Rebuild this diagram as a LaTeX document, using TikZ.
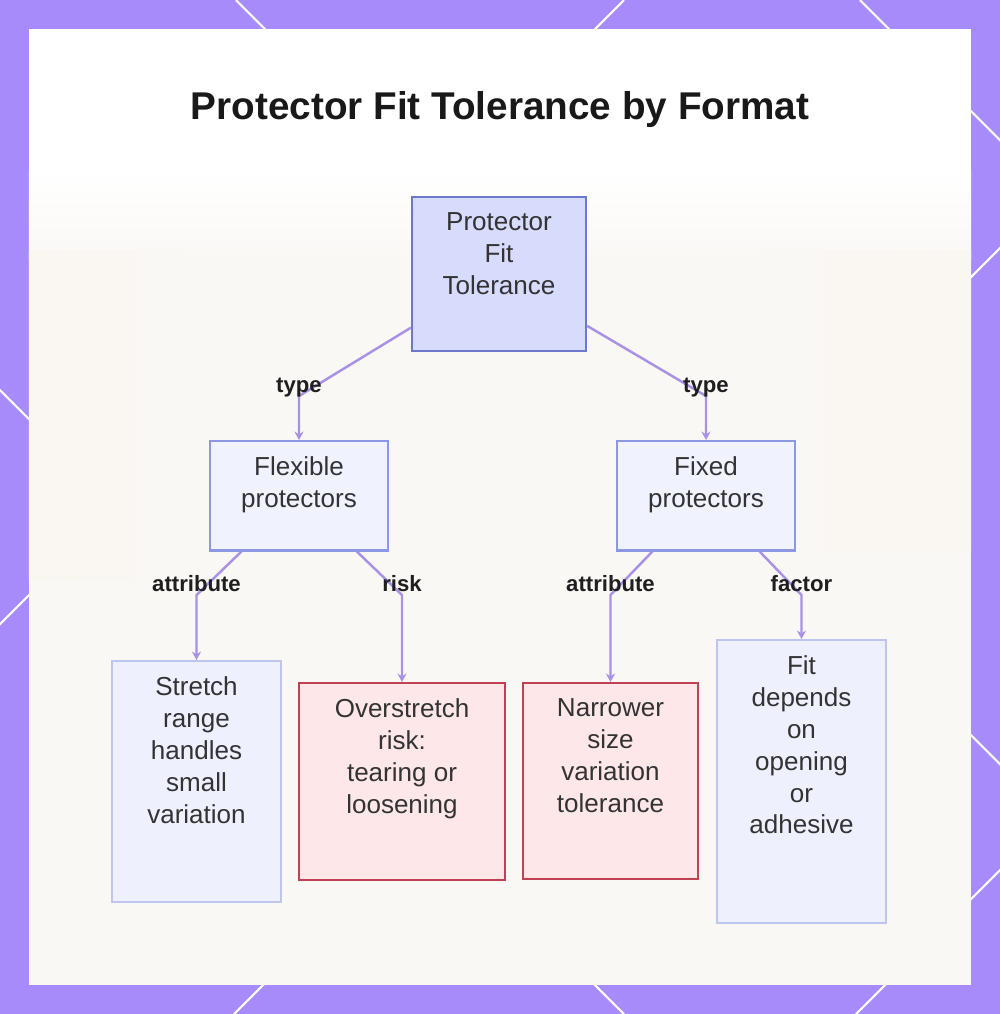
\documentclass[tikz,border=0pt]{standalone}
\usepackage{fontspec}
\setmainfont{Liberation Sans}
\usetikzlibrary{arrows.meta}

\definecolor{frame}{RGB}{167,139,250}
\definecolor{panelwarm}{RGB}{250,248,245}
\definecolor{wallbeige}{RGB}{250,246,240}
\definecolor{rootfill}{RGB}{215,219,252}
\definecolor{rootline}{RGB}{108,120,205}
\definecolor{midfill}{RGB}{240,242,254}
\definecolor{midline}{RGB}{140,152,228}
\definecolor{leaffill}{RGB}{238,241,253}
\definecolor{leafline}{RGB}{190,198,240}
\definecolor{riskfill}{RGB}{253,231,233}
\definecolor{riskline}{RGB}{192,64,84}
\definecolor{edgecol}{RGB}{170,145,232}
\definecolor{inktext}{RGB}{51,51,51}

% extra room under the last line of a box
\newcommand{\lowpad}[1]{\rule[-#1]{0pt}{#1}}

\begin{document}
\begin{tikzpicture}[x=0.01cm, y=-0.01cm,
        box/.style={draw, line width=0.6pt, anchor=north, align=center, inner ysep=4.5pt,
            text=inktext, font=\fontsize{7.4}{9.05}\selectfont},
        rootbox/.style={box, fill=rootfill, draw=rootline, minimum width=49.5pt},
        midbox/.style={box, fill=midfill, draw=midline, minimum width=50.6pt},
        leafbox/.style={box, fill=leaffill, draw=leafline},
        riskbox/.style={box, fill=riskfill, draw=riskline, line width=0.7pt},
        edge/.style={draw=edgecol, line width=0.7pt, -{Stealth[length=2.4pt,width=2.6pt]}},
        elabel/.style={anchor=base, inner sep=0pt, text=black!88,
            font=\bfseries\fontsize{6.3}{7}\selectfont},
        frameline/.style={white, line width=0.6pt}]
            \useasboundingbox (0,0) rectangle (1000,1014);

            % Frame with its line pattern
            \fill[frame] (0,0) rectangle (1000,1014);
            \draw[frameline] (-390,0) -- (624,1014);
            \draw[frameline] (236,0) -- (1250,1014);
            \draw[frameline] (860,0) -- (1874,1014);
            \draw[frameline] (624,0) -- (-390,1014);
            \draw[frameline] (1248,0) -- (234,1014);
            \draw[frameline] (1870,0) -- (856,1014);

            % Panel
            \fill[white] (29,29) rectangle (971,985);
            \shade[top color=white, bottom color=panelwarm] (29,170) rectangle (971,260);
            \fill[panelwarm] (29,259) rectangle (971,985);
            \shade[left color=wallbeige, right color=panelwarm] (29,250) rectangle (180,580);
            \shade[left color=panelwarm, right color=wallbeige] (760,250) rectangle (971,550);

            % Title
            \node[anchor=base, text=black!90, font=\bfseries\fontsize{11}{13}\selectfont] (title) at (500,119) {Protector Fit Tolerance by Format};

            % Boxes
            \node[rootbox] (root) at (499,196) {Protector\\Fit\\Tolerance\lowpad{11.5pt}};
            \node[midbox] (flex) at (299,440) {Flexible\\protectors\lowpad{7.7pt}};
            \node[midbox] (fixed) at (706,440) {Fixed\\protectors\lowpad{7.7pt}};
            \node[leafbox, minimum width=48.1pt] (stretch) at (196.5,660) {Stretch\\range\\handles\\small\\variation\lowpad{17.9pt}};
            \node[riskbox, minimum width=58.6pt] (over) at (402,682) {Overstretch\\risk:\\tearing or\\loosening\lowpad{14.5pt}};
            \node[riskbox, minimum width=49.8pt] (narrow) at (610.5,682) {Narrower\\size\\variation\\tolerance\lowpad{14.5pt}};
            \node[leafbox, minimum width=48.1pt] (fit) at (801.5,639) {Fit\\depends\\on\\opening\\or\\adhesive\lowpad{20.8pt}};

            % Bend points
            \coordinate (kFlex) at (299,396);
            \coordinate (kFixed) at (706,396);
            \coordinate (kStretch) at (196.5,595);
            \coordinate (kOver) at (402,595);
            \coordinate (kNarrow) at (610.5,595);
            \coordinate (kFit) at (801.5,595);

            % Connectors
            \draw[edge] (root) -- (kFlex) -- (flex);
            \draw[edge] (root) -- (kFixed) -- (fixed);
            \draw[edge] (flex) -- (kStretch) -- (stretch);
            \draw[edge] (flex) -- (kOver) -- (over);
            \draw[edge] (fixed) -- (kNarrow) -- (narrow);
            \draw[edge] (fixed) -- (kFit) -- (fit);

            % Connector labels
            \node[elabel] (lFlex) at ([yshift=1.1pt]kFlex) {type};
            \node[elabel] (lFixed) at ([yshift=1.1pt]kFixed) {type};
            \node[elabel] (lStretch) at ([yshift=1.1pt]kStretch) {attribute};
            \node[elabel] (lOver) at ([yshift=1.1pt]kOver) {risk};
            \node[elabel] (lNarrow) at ([yshift=1.1pt]kNarrow) {attribute};
            \node[elabel] (lFit) at ([yshift=1.1pt]kFit) {factor};
\end{tikzpicture}
\end{document}
